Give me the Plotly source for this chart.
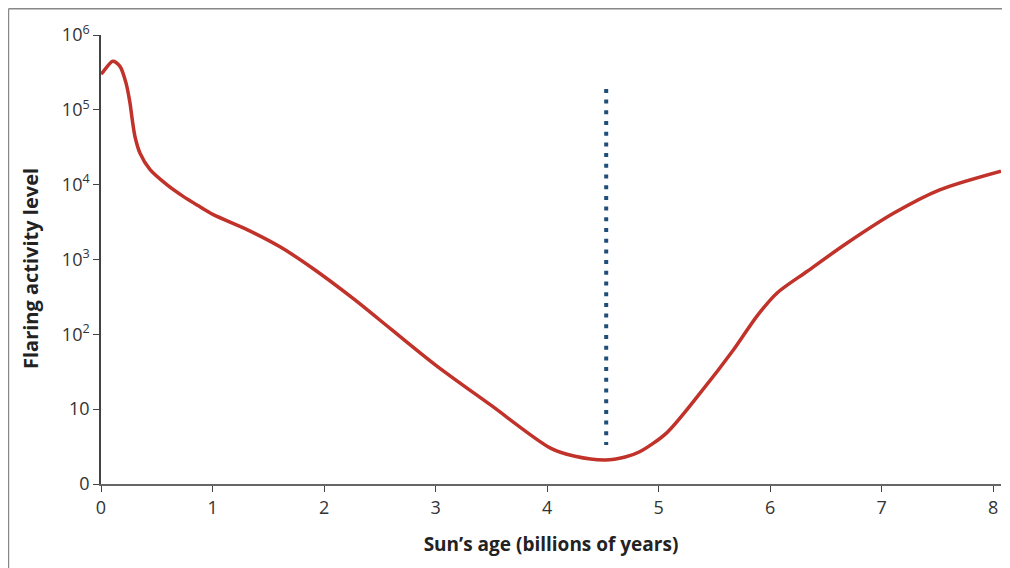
import plotly.graph_objects as go

# Sun's age (billions of years)
age = [0.0, 0.02, 0.105, 0.17, 0.224, 0.26, 0.28, 0.305, 0.35, 0.44, 0.59, 0.74, 0.87,
       1.007, 1.31, 1.605, 1.90, 2.26, 2.6, 3.0, 3.49, 4.03, 4.25, 4.52, 4.7, 4.83,
       5.07, 5.37, 5.67, 5.88, 6.06, 6.33, 6.69, 7.11, 7.52, 8.07]
# log10 of flaring activity level
log_flare = [5.48, 5.51, 5.65, 5.58, 5.36, 5.09, 4.87, 4.64, 4.42, 4.20, 4.0, 3.84, 3.72,
             3.60, 3.40, 3.17, 2.88, 2.48, 2.07, 1.59, 1.06, 0.48, 0.37, 0.32, 0.36, 0.43,
             0.68, 1.21, 1.79, 2.24, 2.55, 2.84, 3.22, 3.62, 3.93, 4.18]
flare = [10 ** v for v in log_flare]

# present day marker
now_age = [4.53, 4.53]
now_level = [10 ** 5.28, 10 ** 0.52]

tick_vals = [1, 10, 100, 1000, 10000, 100000, 1000000]
tick_text = ["0", "10", "10<sup>2</sup>", "10<sup>3</sup>", "10<sup>4</sup>", "10<sup>5</sup>", "10<sup>6</sup>"]
x_ticks = [0, 1, 2, 3, 4, 5, 6, 7, 8]

fig = go.Figure()
fig.add_trace(go.Scatter(x=now_age, y=now_level, mode="lines",
                         line=dict(color="#1f4e7a", width=4, dash="4px,6.7px"),
                         hoverinfo="skip"))
fig.add_trace(go.Scatter(x=age, y=flare, mode="lines",
                         line=dict(color="#c0322a", width=3.5, shape="spline", smoothing=0.8),
                         hoverinfo="skip"))

font_family = "Open Sans, Lato, sans-serif"
fig.update_layout(
    width=1002, height=560,
    margin=dict(l=93, r=9, t=27, b=84),
    paper_bgcolor="white", plot_bgcolor="white",
    showlegend=False,
    font=dict(family=font_family, color="#333333", size=18),
    xaxis=dict(range=[0, 8.07], tickvals=x_ticks, showgrid=False, zeroline=False,
               showline=True, linecolor="#666666", linewidth=2,
               ticks="outside", ticklen=6, tickcolor="#444444", tickwidth=1,
               tickfont=dict(size=18, color="#333333"),
               title=dict(text="<b>Sun’s age (billions of years)</b>",
                          font=dict(size=19, color="#222222"), standoff=20)),
    yaxis=dict(type="log", range=[0, 6], tickvals=tick_vals, ticktext=tick_text,
               showgrid=False, zeroline=False,
               showline=True, linecolor="#444444", linewidth=1.5,
               ticks="outside", ticklen=6, tickcolor="#444444", tickwidth=1,
               tickfont=dict(size=18, color="#333333")),
    annotations=[dict(text="<b>Flaring activity level</b>", textangle=-90,
                      xref="paper", yref="paper", x=-0.0789, y=0.481,
                      xanchor="center", yanchor="middle", showarrow=False,
                      font=dict(size=20, color="#222222"))],
    shapes=[dict(type="line", xref="paper", yref="paper",
                 x0=-0.1028, x1=-0.1028, y0=-0.3, y1=1.0583,
                 line=dict(color="#888888", width=1.5)),
            dict(type="line", xref="paper", yref="paper",
                 x0=-0.1028, x1=1.3, y0=1.0583, y1=1.0583,
                 line=dict(color="#888888", width=1.5))],
)

fig.write_html("out.html")
